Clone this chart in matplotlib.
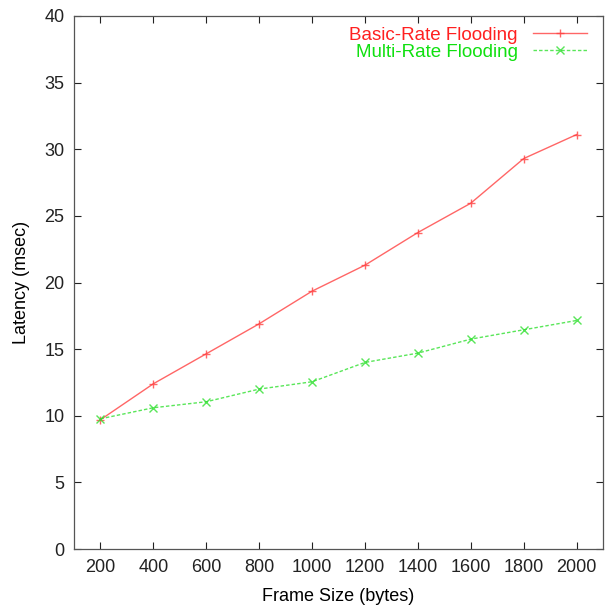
import matplotlib.pyplot as plt

plt.rcParams['font.family'] = ['Liberation Sans', 'DejaVu Sans']

# data
frame_sizes = [200, 400, 600, 800, 1000, 1200, 1400, 1600, 1800, 2000]
basic_rate = [9.7, 12.4, 14.65, 16.9, 19.35, 21.3, 23.75, 25.95, 29.3, 31.1]
multi_rate = [9.77, 10.6, 11.05, 12.0, 12.55, 14.0, 14.7, 15.75, 16.45, 17.15]

fig = plt.figure(figsize=(6.07, 6.05), dpi=100)
ax = fig.add_axes([74 / 607, 1 - 549 / 605, 529 / 607, 533 / 605])

ax.plot(frame_sizes, basic_rate, color='#ff4040', lw=1.0, alpha=0.8,
        marker='+', ms=6, mew=1.0, label='Basic-Rate Flooding')
ax.plot(frame_sizes, multi_rate, color='#30e030', lw=1.0, alpha=0.8,
        ls=(0, (2.5, 1.5)), marker='x', ms=5.5, mew=1.0,
        label='Multi-Rate Flooding')

ax.set_xlim(100, 2100)
ax.set_ylim(0, 40)
ax.set_xticks(frame_sizes)
ax.set_yticks(range(0, 41, 5))
ax.tick_params(direction='in', top=True, right=True, length=5, width=0.8,
               labelsize=13, colors='#222222', pad=7)
for s in ax.spines.values():
    s.set_color('#555555')
    s.set_linewidth(0.9)

ax.set_xlabel('Frame Size (bytes)', fontsize=13, labelpad=9)
ax.set_ylabel('Latency (msec)', fontsize=13, labelpad=10)

leg = ax.legend(loc='upper right', bbox_to_anchor=(0.995, 1.005), frameon=False,
                markerfirst=False, fontsize=13.5, handlelength=2.9,
                handletextpad=0.8, labelspacing=0.0, borderaxespad=0.3)
for txt, c in zip(leg.get_texts(), ['#ff2020', '#10e010']):
    txt.set_color(c)

fig.savefig('out.png', dpi=100)
